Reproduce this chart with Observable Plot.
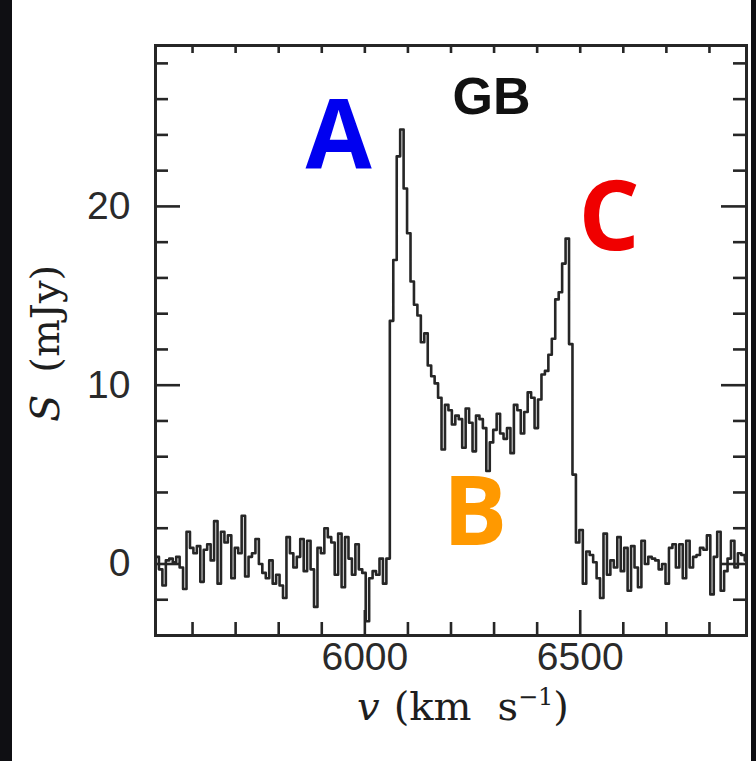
<!DOCTYPE html>
<html>
<head>
<meta charset="utf-8">
<script src="https://cdn.jsdelivr.net/npm/d3@7"></script>
<script src="https://cdn.jsdelivr.net/npm/@observablehq/plot@0.6"></script>
<style>
  html, body { margin: 0; padding: 0; background: #fff; }
  #wrap { position: relative; width: 756px; height: 761px; overflow: hidden; }
  .strip { position: absolute; top: 0; height: 761px; background: #0f0f13; }
</style>
</head>
<body>
<div id="wrap"></div>
<script>
// ---- data ----
const channelStart = 5514;   // km/s, first channel edge
const channelWidth = 8;      // km/s per channel
const flux = [
  0.4, -0.3, -1.2, 0.2, 0.3, 0.1, 0.4, -0.2, -1.4, 1.8,
  0.9, 0.6, 1.0, -1.0, 0.8, 1.1, 0.2, 2.4, -1.1, 1.8,
  1.2, 1.6, -0.8, 0.9, 0.6, 2.7, -0.7, 0.4, 0.6, 1.4,
  0.0, -0.5, -0.8, 0.2, -1.1, -0.6, -1.2, -1.9, 1.5, 0.6,
  -0.2, 0.4, 1.4, -0.4, 1.3, -0.3, -2.4, 0.9, 0.6, 2.0,
  1.5, 1.2, -0.6, 1.7, -1.3, 1.5, 0.3, -0.6, 1.1, -0.3,
  -0.5, -3.2, -0.8, -0.4, -0.6, 0.3, -1.1, 0.3, 13.6, 17.0,
  22.8, 24.3, 21.0, 18.5, 15.8, 14.5, 13.9, 12.4, 12.9, 11.1,
  10.5, 10.1, 9.3, 6.4, 8.9, 8.6, 7.8, 8.3, 8.1, 6.5,
  8.7, 7.9, 6.3, 8.3, 8.1, 7.6, 5.2, 6.8, 7.5, 8.4,
  7.3, 7.0, 7.6, 6.2, 8.9, 8.6, 7.3, 8.5, 9.6, 9.3,
  7.6, 9.2, 10.6, 10.8, 11.7, 12.6, 14.8, 15.2, 16.8, 18.2,
  12.3, 5.0, 1.2, 1.9, -1.1, 0.7, 0.5, 0.1, -0.8, -1.9,
  1.7, -0.6, 0.2, -0.2, 1.5, -0.4, 0.9, -1.5, 1.0, -0.2,
  -1.3, 1.3, 0.0, 0.4, 0.3, 0.2, -0.3, 0.0, -1.1, 0.9,
  1.1, -0.2, 1.1, -0.8, 1.3, -0.2, 0.4, 0.5, 0.9, 0.8,
  1.6, -1.7, 0.4, 1.8, -1.5, -0.4, 0.3, 1.3, -0.2, 0.6,
  0.5, 0.2
];
const xDomain = [5514, 6886];
const yDomain = [-4, 29];
const xMajor = [6000, 6500];
const xMinor = [5600, 5700, 5800, 5900, 6100, 6200, 6300, 6400, 6600, 6700, 6800];
const yMajor = [0, 10, 20];
const yMinor = [-2, 2, 4, 6, 8, 12, 14, 16, 18, 22, 24, 26, 28];
const peakNames = ["A", "B", "C"];
const peakNameV = [5939, 6256, 6567];
const peakNameS = [23.8, 2.8, 19.3];
const peakColors = ["#0000f0", "#ff9900", "#f00000"];
const panelTitle = "GB";
const panelTitleV = 6294;
const panelTitleS = 26.1;
const xTitle = "v (km s-1)";
const yTitle = "S (mJy)";

// ---- tables built from the arrays ----
const spectrum = flux.map((s, i) => ({v: channelStart + i * channelWidth, s}));
spectrum.push({v: channelStart + flux.length * channelWidth, s: flux[flux.length - 1]});
const peaks = peakNames.map((t, i) => ({t, v: peakNameV[i], s: peakNameS[i], c: peakColors[i]}));

// ---- layout ----
const W = 756, H = 761, mL = 155, mR = 10, mT = 45, mB = 126;
const fw = W - mL - mR, fh = H - mT - mB;
const ink = "#262626";
const sans = "'Liberation Sans', Arial, Helvetica, sans-serif";
const serif = "'DejaVu Serif', 'Liberation Serif', serif";

const chart = Plot.plot({
  width: W, height: H,
  marginLeft: mL, marginRight: mR, marginTop: mT, marginBottom: mB,
  x: {domain: xDomain, axis: null},
  y: {domain: yDomain, axis: null},
  color: {type: "identity"},
  style: {background: "white", overflow: "visible"},
  marks: [
    Plot.line(spectrum, {x: "v", y: "s", curve: "step-after", stroke: ink, strokeWidth: 2.6, clip: true}),
    // bottom ticks
    Plot.tickX(xMinor, {x: d => d, insetTop: fh - 13, stroke: ink, strokeWidth: 2.6}),
    Plot.tickX(xMajor, {x: d => d, insetTop: fh - 25, stroke: ink, strokeWidth: 2.6}),
    // top ticks
    Plot.tickX(xMinor.concat(xMajor), {x: d => d, insetBottom: fh - 8, stroke: ink, strokeWidth: 2.6}),
    // left ticks
    Plot.tickY(yMinor, {y: d => d, insetRight: fw - 13, stroke: ink, strokeWidth: 2.6}),
    Plot.tickY(yMajor, {y: d => d, insetRight: fw - 25, stroke: ink, strokeWidth: 2.6}),
    // right ticks
    Plot.tickY(yMinor, {y: d => d, insetLeft: fw - 13, stroke: ink, strokeWidth: 2.6}),
    Plot.tickY(yMajor, {y: d => d, insetLeft: fw - 25, stroke: ink, strokeWidth: 2.6}),
    Plot.frame({stroke: ink, strokeWidth: 3}),
    // tick labels
    Plot.text(xMajor, {x: d => d, frameAnchor: "bottom", dy: 34, text: d => String(d),
      fontSize: 39, fontFamily: sans, fill: "#2a2a2a", letterSpacing: 2}),
    Plot.text(yMajor, {y: d => d, frameAnchor: "left", dx: -25, textAnchor: "end", text: d => String(d),
      fontSize: 39, fontFamily: sans, fill: "#2a2a2a", letterSpacing: 2}),
    // panel title
    Plot.text([panelTitle], {x: () => panelTitleV, y: () => panelTitleS, text: d => d,
      fontSize: 52, fontWeight: "bold", fontFamily: sans, fill: "#111", letterSpacing: 3}),
    // peak annotations
    Plot.text(peaks, {x: "v", y: "s", text: "t", fill: "c",
      fontSize: 96, fontWeight: 700, fontFamily: "'Open Sans', sans-serif"}),
    // axis titles (rich text filled in below)
    Plot.text([xTitle], {frameAnchor: "bottom", textAnchor: "middle", dx: 12, dy: 84, text: d => d,
      fontSize: 40, fontFamily: serif, fill: "#1e1e1e"}),
    Plot.text([yTitle], {frameAnchor: "left", textAnchor: "middle", dx: -109, dy: 3, rotate: -90, text: d => d,
      fontSize: 40, fontFamily: serif, fill: "#1e1e1e"})
  ]
});

// rich text for the axis titles
const allText = d3.select(chart).selectAll("text");
const xl = allText.filter(function() { return this.textContent === xTitle; });
xl.text(null);
xl.append("tspan").attr("font-style", "italic").text("v");
xl.append("tspan").attr("dx", 14).text("(km");
xl.append("tspan").attr("dx", 26).text("s");
xl.append("tspan").attr("dy", -15).attr("font-size", 24).text("\u22121");
xl.append("tspan").attr("dy", 15).text(")");

const yl = allText.filter(function() { return this.textContent === yTitle; });
yl.text(null);
yl.append("tspan").attr("font-style", "italic").text("S");
yl.append("tspan").attr("dx", 22).text("(mJy)");

const wrap = document.getElementById("wrap");
wrap.appendChild(chart);
const left = document.createElement("div");
left.className = "strip"; left.style.left = "0px"; left.style.width = "12px";
const right = document.createElement("div");
right.className = "strip"; right.style.left = "751px"; right.style.width = "5px";
wrap.appendChild(left); wrap.appendChild(right);
</script>
</body>
</html>
